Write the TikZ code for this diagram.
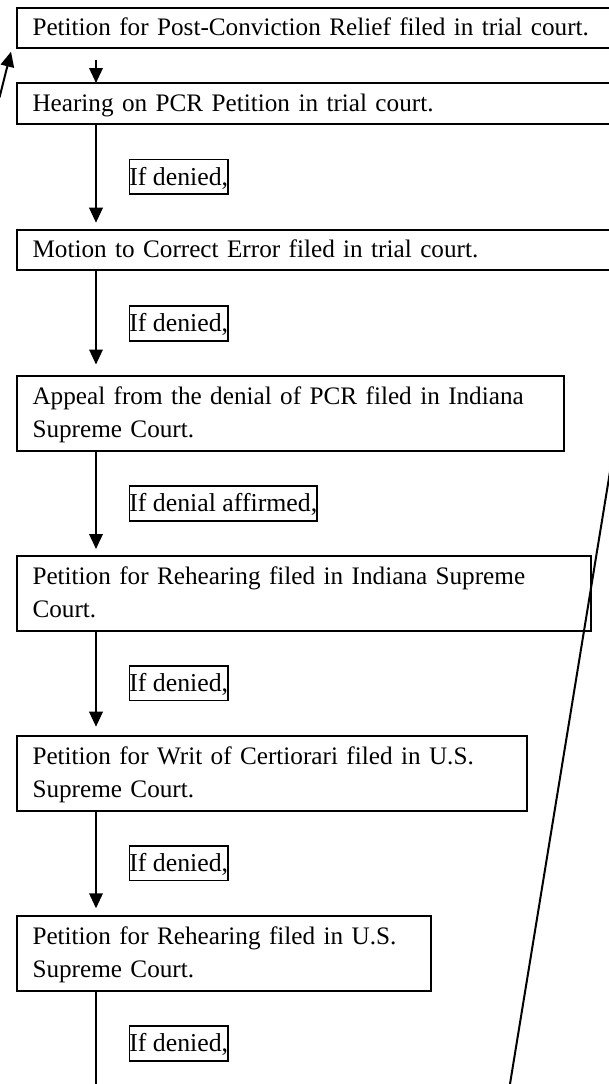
\documentclass[tikz,border=0pt]{standalone}
\usepackage{fontspec}
\setmainfont{Liberation Serif}
\usetikzlibrary{arrows.meta}
\newcommand\bstr{\rule[-8.8pt]{0pt}{33pt}}
\newcommand\lstr{\rule[-9pt]{0pt}{34.7pt}}
\begin{document}
\begin{tikzpicture}[x=1pt,y=-1pt,
  stepbox/.style={draw, line width=2pt, inner xsep=15.5pt, inner ysep=0pt, outer sep=0pt,
    anchor=north west, align=left, font=\fontsize{25.2}{33}\selectfont},
  one/.style={stepbox, minimum height=40.7pt},
  two/.style={stepbox, minimum height=75.3pt},
  cond/.style={draw, line width=1.6pt, inner sep=0pt, outer sep=0pt, anchor=north west,
    font=\fontsize{25.8}{33}\selectfont},
  arr/.style={line width=2pt, -{Triangle[width=13.5pt,length=15pt]}},
  plain/.style={line width=2pt}
]
\useasboundingbox (0,0) rectangle (609,1084);
\clip (0,0) rectangle (609,1084);

\node[one, text width=620pt] (b1) at (17,7.5) {\bstr Petition for Post-Conviction Relief filed in trial court.};
\node[one, text width=620pt] (b2) at (17,83) {\bstr Hearing on PCR Petition in trial court.};
\node[one, text width=620pt] (b3) at (17,229.5) {\bstr Motion to Correct Error filed in trial court.};
\node[two, text width=516pt] (b4) at (17,375.5) {\bstr Appeal from the denial of PCR filed in Indiana\\\bstr Supreme Court.};
\node[two, text width=543pt] (b5) at (17,555.5) {\bstr Petition for Rehearing filed in Indiana Supreme\\\bstr Court.};
\node[two, text width=479pt] (b6) at (17,735.7) {\bstr Petition for Writ of Certiorari filed in U.S.\\\bstr Supreme Court.};
\node[two, text width=383pt] (b7) at (17,915.7) {\bstr Petition for Rehearing filed in U.S.\\\bstr Supreme Court.};

\node[cond] (c1) at (129.3,159.3) {\lstr If denied,};
\node[cond] (c2) at (129.3,306) {\lstr If denied,};
\node[cond] (c3) at (129.3,486) {\lstr If denial affirmed,};
\node[cond] (c4) at (129.3,665.7) {\lstr If denied,};
\node[cond] (c5) at (129.3,845.7) {\lstr If denied,};
\node[cond] (c6) at (129.3,1026) {\lstr If denied,};

\draw[arr, shorten <=11.5pt] ([xshift=79pt]b1.south west) -- ([xshift=79pt]b2.north west);
\draw[arr, shorten <=1pt, shorten >=6.8pt] ([xshift=79pt]b2.south west) -- ([xshift=79pt]b3.north west);
\draw[arr, shorten <=1pt, shorten >=11pt] ([xshift=79pt]b3.south west) -- ([xshift=79pt]b4.north west);
\draw[arr, shorten <=1pt, shorten >=6.5pt] ([xshift=79pt]b4.south west) -- ([xshift=79pt]b5.north west);
\draw[arr, shorten <=1pt, shorten >=9pt] ([xshift=79pt]b5.south west) -- ([xshift=79pt]b6.north west);
\draw[arr, shorten <=1pt, shorten >=7.4pt] ([xshift=79pt]b6.south west) -- ([xshift=79pt]b7.north west);

\coordinate (e) at (96,1084);
\draw[plain, shorten <=1pt] ([xshift=79pt]b7.south west) -- (e);

\coordinate (ls) at (-0.5,97.5);
\coordinate (lt) at (11,51.7);
\draw[arr] (ls) -- (lt);

\coordinate (d1) at (612,459.4);
\coordinate (d2) at (509.5,1087);
\draw[plain] (d1) -- (d2);
\end{tikzpicture}
\end{document}
